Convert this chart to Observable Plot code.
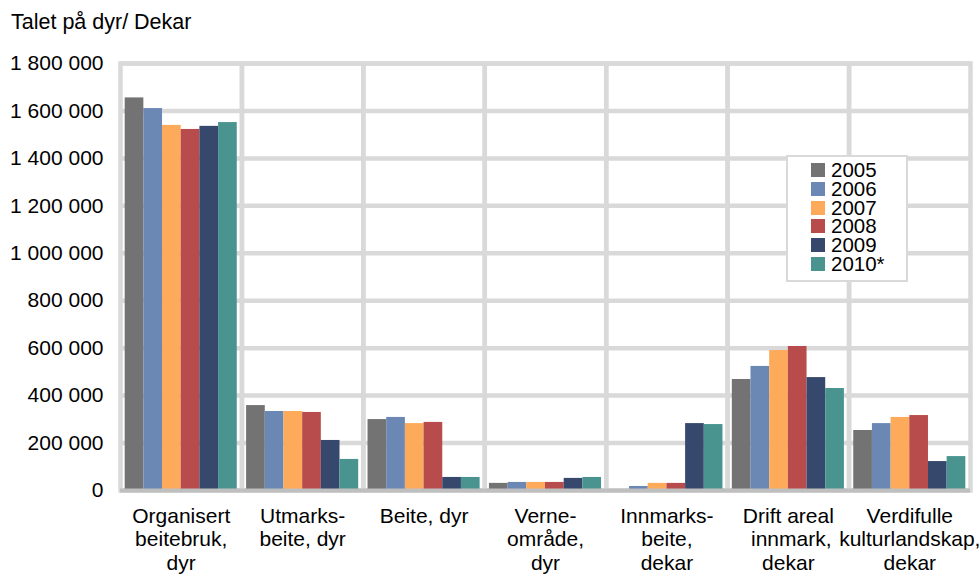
<!DOCTYPE html>
<html><head><meta charset="utf-8">
<script src="https://cdn.jsdelivr.net/npm/d3@7"></script>
<script src="https://cdn.jsdelivr.net/npm/@observablehq/plot@0.6"></script>
<style>
body{margin:0;background:#fff;font-family:"Liberation Sans",Arial,sans-serif;}
#wrap{position:relative;width:979px;height:579px;overflow:hidden;}
#title{position:absolute;left:11px;top:12px;font-size:21.5px;line-height:20px;color:#000;}
#chart{position:absolute;left:0;top:45px;}
#legend{position:absolute;left:786px;top:155px;width:122px;height:127px;box-sizing:border-box;border:2px solid #d9d9d9;background:#fff;}
.row{position:absolute;left:23px;height:18px;display:flex;align-items:center;font-size:20.5px;line-height:18px;color:#000;}
.sw{width:14px;height:14px;margin-right:6px;flex:none;}
</style></head><body>
<div id="wrap">
  <div id="title">Talet på dyr/ Dekar</div>
  <div id="chart"></div>
  <div id="legend"></div>
</div>
<script>
const categories = ["Organisert beitebruk, dyr","Utmarks-beite, dyr","Beite, dyr","Verne-område, dyr","Innmarks-beite, dekar","Drift areal innmark, dekar","Verdifulle kulturlandskap, dekar"];
const categoryLabels = ["Organisert\nbeitebruk,\ndyr","Utmarks-\nbeite, dyr","Beite, dyr","Verne-\nområde,\ndyr","Innmarks-\nbeite,\ndekar","Drift areal\n innmark,\ndekar","Verdifulle\nkulturlandskap,\ndekar"];
const years = ["2005","2006","2007","2008","2009","2010*"];
const v2005 = [1655000, 358000, 299000, 30000, 4000, 468000, 253000];
const v2006 = [1610000, 333000, 308000, 34000, 17000, 523000, 282000];
const v2007 = [1539000, 333000, 282000, 34000, 30000, 590000, 308000];
const v2008 = [1522000, 329000, 287000, 34000, 30000, 607000, 316000];
const v2009 = [1535000, 211000, 55000, 51000, 282000, 476000, 122000];
const v2010 = [1551000, 131000, 55000, 55000, 278000, 430000, 143000];
const yTicks = [0,200000,400000,600000,800000,1000000,1200000,1400000,1600000,1800000];
const colors = ["#737373","#6b87b4","#fdaa5a","#b84c4c","#36486b","#4a9490"];

const series = [v2005, v2006, v2007, v2008, v2009, v2010];
const table = [];
categories.forEach((c, i) => years.forEach((y, j) => table.push({cat: c, year: y, value: series[j][i]})));
const labelOf = Object.fromEntries(categories.map((c, i) => [c, categoryLabels[i]]));
const fmt = d => d3.format(",")(d).replace(/,/g, " ");

const chart = Plot.plot({
  width: 979,
  height: 534,
  marginTop: 18,
  marginBottom: 89,
  marginLeft: 120,
  marginRight: 9,
  style: {fontFamily: "'Liberation Sans', Arial, sans-serif", fontSize: "21px", color: "#000", background: "transparent"},
  fx: {domain: categories, padding: 0, round: false, axis: null, label: null},
  x: {domain: years, paddingInner: 0, paddingOuter: 0.25, round: false, axis: null},
  y: {domain: [0, 1800000], axis: null},
  color: {domain: years, range: colors},
  marks: [
    Plot.ruleY(yTicks, {stroke: "#d9d9d9", strokeWidth: 4.5}),
    Plot.frame({stroke: "#d9d9d9", strokeWidth: 4.5}),
    Plot.barY(table, {fx: "cat", x: "year", y: "value", fill: "year"}),
    Plot.ruleY([0], {stroke: "#bfbfbf", strokeWidth: 4}),
    Plot.axisY({ticks: yTicks, tickSize: 0, tickPadding: 17, tickFormat: fmt, label: null, fontSize: 21}),
    Plot.axisFx({anchor: "bottom", tickSize: 0, tickPadding: 15, tickFormat: d => labelOf[d], label: null, fontSize: 21, lineHeight: 1.14})
  ]
});
document.getElementById("chart").appendChild(chart);

const legend = document.getElementById("legend");
years.forEach((y, j) => {
  const r = document.createElement("div");
  r.className = "row";
  r.style.top = (4 + j * 18.8) + "px";
  r.innerHTML = `<span class="sw" style="background:${colors[j]}"></span><span>${y}</span>`;
  legend.appendChild(r);
});
</script>
</body></html>
